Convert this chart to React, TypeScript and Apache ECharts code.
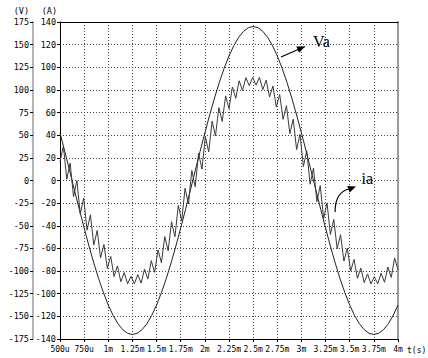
import { useEffect, useRef } from "react";
import * as echarts from "echarts";

// Time axis (ms): 500u .. 4m in 250u steps
const T_MIN = 0.5;
const T_MAX = 4;
const T_STEP = 0.25;
const xTickLabels = [
  "500u", "750u", "1m", "1.25m", "1.5m", "1.75m", "2m", "2.25m",
  "2.5m", "2.75m", "3m", "3.25m", "3.5m", "3.75m", "4m",
];

// Phase voltage Va (V), sampled every 50 us from t = 500 us
const vaSampleStep = 0.05;
const vaValues = [
  52.5, 31.9, 10.7, -10.7, -31.9, -52.5, -72.4, -91.1, -108.4, -123.9,
  -137.5, -149.0, -158.1, -164.7, -168.7, -170.0, -168.7, -164.7, -158.1, -149.0,
  -137.5, -123.9, -108.4, -91.1, -72.4, -52.5, -31.9, -10.7, 10.7, 31.9,
  52.5, 72.4, 91.1, 108.4, 123.9, 137.5, 149.0, 158.1, 164.7, 168.7,
  170.0, 168.7, 164.7, 158.1, 149.0, 137.5, 123.9, 108.4, 91.1, 72.4,
  52.5, 31.9, 10.7, -10.7, -31.9, -52.5, -72.4, -91.1, -108.4, -123.9,
  -137.5, -149.0, -158.1, -164.7, -168.7, -170.0, -168.7, -164.7, -158.1, -149.0,
  -137.5,
];

// Phase current ia (A): switching ripple, valley/peak every 35 us from t = 500 us
const iaSampleStep = 0.035;
const iaValues = [
  16.6, 30.5, 1.2, 15.4, -14.3, -0.1, -29.5, -15.5, -43.8, -30.3,
  -57.0, -44.1, -68.3, -56.5, -77.8, -67.0, -84.9, -75.4, -89.4, -81.3,
  -91.3, -84.6, -91.3, -83.1, -90.6, -78.2, -87.1, -70.8, -81.1, -61.3,
  -72.7, -49.6, -62.0, -36.4, -49.7, -22.0, -35.8, -6.8, -20.8, 8.8,
  -5.5, 24.1, 10.0, 38.8, 25.2, 52.4, 39.4, 64.4, 52.2, 74.7,
  63.5, 82.6, 72.6, 88.1, 79.5, 90.9, 83.8, 91.1, 84.2, 91.1,
  80.2, 88.7, 73.8, 83.5, 65.0, 75.9, 54.0, 66.1, 41.3, 54.2,
  27.3, 40.8, 12.3, 26.3, -3.3, 11.0, -18.7, -4.5, -33.7, -19.8,
  -47.7, -34.4, -60.3, -47.9, -71.2, -59.7, -80.0, -69.7, -86.4, -77.3,
  -90.2, -82.5, -91.4, -84.9, -91.4, -81.9, -89.9, -76.4, -85.6, -68.4,
  -78.9,
];

const MONO = "'DejaVu Sans Mono', monospace";
const SERIF = "'Liberation Serif', 'Times New Roman', serif";
const Y_LABEL_SIZE = 8.5;
const X_LABEL_SIZE = 8;

const GRID_LEFT = 60;
const GRID_RIGHT = 30;
const GRID_TOP = 22;
const GRID_BOTTOM = 19;
const V_AXIS_OFFSET = 27;

const gridDots = { color: "#444", width: 1, type: [1, 2] as number[] };

export default function App() {
  const ref = useRef<HTMLDivElement>(null);

  useEffect(() => {
    const chart = echarts.init(ref.current!, null, { renderer: "svg" });

    const vaData = vaValues.map((v, i) => [T_MIN + i * vaSampleStep, v]);
    const iaData = iaValues.map((v, i) => [T_MIN + i * iaSampleStep, v]);

    chart.setOption({
      animation: false,
      backgroundColor: "#fff",
      grid: { left: GRID_LEFT, right: GRID_RIGHT, top: GRID_TOP, bottom: GRID_BOTTOM },
      xAxis: [
        {
          type: "value",
          min: T_MIN,
          max: T_MAX,
          interval: T_STEP,
          position: "bottom",
          axisLine: { show: true, onZero: false, lineStyle: { color: "#000", width: 1 } },
          axisTick: { show: true, length: 3, lineStyle: { color: "#000" } },
          axisLabel: {
            fontFamily: MONO,
            fontSize: X_LABEL_SIZE,
            color: "#000",
            margin: 6,
            formatter: (v: number) => xTickLabels[Math.round((v - T_MIN) / T_STEP)] ?? "",
          },
          splitLine: { show: true, lineStyle: gridDots },
        },
        {
          type: "value",
          min: T_MIN,
          max: T_MAX,
          position: "top",
          axisLine: { show: true, onZero: false, lineStyle: { color: "#000", width: 1 } },
          axisTick: { show: false },
          axisLabel: { show: false },
          splitLine: { show: false },
        },
      ],
      yAxis: [
        {
          // current scale (A), on the plot's left edge
          type: "value",
          min: -140,
          max: 140,
          interval: 20,
          position: "left",
          axisLine: { show: true, onZero: false, lineStyle: { color: "#000", width: 1 } },
          axisTick: { show: true, length: 3, lineStyle: { color: "#000" } },
          axisLabel: { fontFamily: MONO, fontSize: Y_LABEL_SIZE, color: "#000", margin: 4 },
          splitLine: { show: true, lineStyle: gridDots },
        },
        {
          // voltage scale (V), further left
          type: "value",
          min: -175,
          max: 175,
          interval: 25,
          position: "left",
          offset: V_AXIS_OFFSET,
          axisLine: { show: true, onZero: false, lineStyle: { color: "#b4b4b4", width: 2 } },
          axisTick: { show: true, length: 3, lineStyle: { color: "#000" } },
          axisLabel: { fontFamily: MONO, fontSize: Y_LABEL_SIZE, color: "#000", margin: 4 },
          splitLine: { show: false },
        },
        {
          type: "value",
          min: -140,
          max: 140,
          position: "right",
          axisLine: { show: true, onZero: false, lineStyle: { color: "#9a9a9a", width: 2 } },
          axisTick: { show: false },
          axisLabel: { show: false },
          splitLine: { show: false },
        },
      ],
      series: [
        {
          name: "Va",
          type: "line",
          xAxisIndex: 0,
          yAxisIndex: 1,
          data: vaData,
          symbol: "none",
          silent: true,
          lineStyle: { color: "#222", width: 1 },
        },
        {
          name: "ia",
          type: "line",
          xAxisIndex: 0,
          yAxisIndex: 0,
          data: iaData,
          symbol: "none",
          silent: true,
          lineStyle: { color: "#3a3a3a", width: 1 },
        },
      ],
    });

    // Annotation anchors in data space
    const pA = (t: number, a: number) =>
      chart.convertToPixel({ xAxisIndex: 0, yAxisIndex: 0 }, [t, a]) as number[];
    const pV = (t: number, v: number) =>
      chart.convertToPixel({ xAxisIndex: 0, yAxisIndex: 1 }, [t, v]) as number[];

    const head = (from: number[], tip: number[], len = 8, half = 3.5) => {
      const dx = tip[0] - from[0];
      const dy = tip[1] - from[1];
      const d = Math.hypot(dx, dy) || 1;
      const ux = dx / d;
      const uy = dy / d;
      const bx = tip[0] - ux * len;
      const by = tip[1] - uy * len;
      return {
        type: "polygon",
        silent: true,
        shape: {
          points: [
            tip,
            [bx - uy * half, by + ux * half],
            [bx + uy * half, by - ux * half],
          ],
        },
        style: { fill: "#000" },
      };
    };

    const vaTail = pV(2.788, 136.4);
    const vaTip = pV(3.037, 148.0);
    const vaText = pV(3.12, 154);

    const iaStart = pA(3.348, -27.8);
    const iaCp1 = pA(3.348, -16.3);
    const iaCp2 = pA(3.399, -9.3);
    const iaEnd = pA(3.493, -7.5);
    const iaTip = pA(3.565, -5.3);
    const iaText = pA(3.622, 2.2);

    const vAxisX = GRID_LEFT - V_AXIS_OFFSET;
    const bottomY = 358 - GRID_BOTTOM;
    const unitFont = `${Y_LABEL_SIZE}px ${MONO}`;

    chart.setOption({
      graphic: [
        {
          type: "text",
          silent: true,
          style: {
            text: "(V)", x: vAxisX - 4, y: 11, fill: "#000",
            font: unitFont, textAlign: "right", textVerticalAlign: "middle",
          },
        },
        {
          type: "text",
          silent: true,
          style: {
            text: "(A)", x: GRID_LEFT - 3, y: 11, fill: "#000",
            font: unitFont, textAlign: "right", textVerticalAlign: "middle",
          },
        },
        {
          type: "text",
          silent: true,
          style: {
            text: "t(s)", x: 407, y: bottomY + 11, fill: "#000",
            font: `${X_LABEL_SIZE}px ${MONO}`, textAlign: "left", textVerticalAlign: "middle",
          },
        },
        // Va label and arrow
        {
          type: "line",
          silent: true,
          shape: { x1: vaTail[0], y1: vaTail[1], x2: vaTip[0], y2: vaTip[1] },
          style: { stroke: "#000", lineWidth: 1.2 },
        },
        head(vaTail, vaTip),
        {
          type: "text",
          silent: true,
          style: {
            text: "Va", x: vaText[0], y: vaText[1], fill: "#000",
            font: `16px ${SERIF}`, textAlign: "left", textVerticalAlign: "middle",
          },
        },
        // ia label and curved arrow
        {
          type: "bezierCurve",
          silent: true,
          shape: {
            x1: iaStart[0], y1: iaStart[1],
            cpx1: iaCp1[0], cpy1: iaCp1[1],
            cpx2: iaCp2[0], cpy2: iaCp2[1],
            x2: iaEnd[0], y2: iaEnd[1],
          },
          style: { stroke: "#000", lineWidth: 1.2, fill: "none" },
        },
        head(iaEnd, iaTip),
        {
          type: "text",
          silent: true,
          style: {
            text: "ia", x: iaText[0], y: iaText[1], fill: "#000",
            font: `16px ${SERIF}`, textAlign: "left", textVerticalAlign: "middle",
          },
        },
      ],
    });

    return () => chart.dispose();
  }, []);

  return (
    <div
      ref={ref}
      style={{ position: "fixed", left: 0, top: 0, width: 428, height: 358 }}
    />
  );
}
